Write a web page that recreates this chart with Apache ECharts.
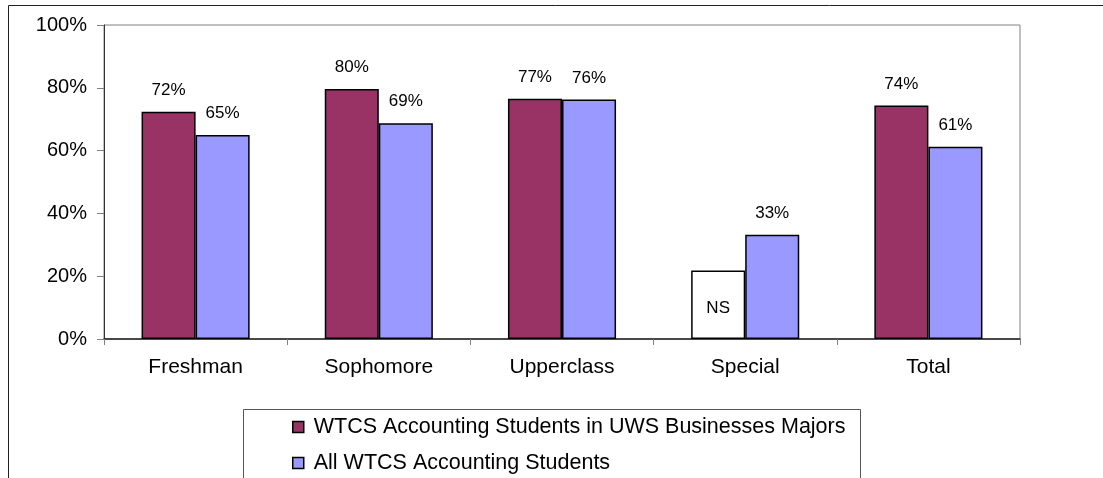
<!DOCTYPE html>
<html>
<head>
<meta charset="utf-8">
<script src="https://cdn.jsdelivr.net/npm/echarts@6/dist/echarts.min.js"></script>
<style>html,body{margin:0;padding:0;background:#fff;}#c{width:1103px;height:478px;}</style>
</head>
<body>
<div id="c"></div>
<script>
var categories = ['Freshman', 'Sophomore', 'Upperclass', 'Special', 'Total'];
var seriesNames = ['WTCS Accounting Students in UWS Businesses Majors', 'All WTCS Accounting Students'];
var uwsMajors = [72.4, 79.6, 76.5, 21.8, 74.4];
var allStudents = [65.0, 68.7, 76.3, 33.2, 61.2];
var notSignificant = [false, false, false, true, false];
var yTicks = [0, 20, 40, 60, 80, 100];

var FONT = '"Liberation Sans", Arial, sans-serif';
var chart = echarts.init(document.getElementById('c'), null, {renderer: 'canvas'});

function pctLabel(p) { return Math.round(p.value) + '%'; }

var s1 = uwsMajors.map(function (v, i) {
  if (notSignificant[i]) {
    return {
      value: v,
      itemStyle: {color: '#ffffff'},
      label: {show: true, position: 'inside', offset: [0, 4], formatter: 'NS', fontSize: 17, color: '#000', fontFamily: FONT}
    };
  }
  return v;
});

chart.setOption({
  animation: false,
  backgroundColor: '#ffffff',
  textStyle: {fontFamily: FONT},
  grid: {left: 104, top: 25, right: 83, bottom: 139, show: true, borderColor: '#808080', borderWidth: 1},
  xAxis: {
    type: 'category',
    data: categories,
    axisLine: {lineStyle: {color: '#222', width: 1.5}},
    axisTick: {show: true, length: 6, lineStyle: {color: '#808080'}},
    axisLabel: {fontSize: 21, color: '#000', margin: 18, fontFamily: FONT},
    splitLine: {show: false}
  },
  yAxis: {
    type: 'value',
    min: yTicks[0],
    max: yTicks[yTicks.length - 1],
    interval: yTicks[1] - yTicks[0],
    axisLine: {show: true, lineStyle: {color: '#333', width: 1}},
    axisTick: {show: true, length: 7, lineStyle: {color: '#808080'}},
    axisLabel: {fontSize: 20, color: '#000', margin: 17, formatter: '{value}%', fontFamily: FONT},
    splitLine: {show: false}
  },
  legend: {
    orient: 'vertical',
    left: 292,
    top: 416,
    bottom: 0,
    padding: 0,
    itemWidth: 11,
    itemHeight: 11,
    itemGap: 14,
    icon: 'rect',
    itemStyle: {borderColor: '#000', borderWidth: 1.5},
    textStyle: {fontSize: 21.5, color: '#000', lineHeight: 22, fontFamily: FONT, padding: [0, 0, 0, 5]},
    data: seriesNames
  },
  series: [
    {
      name: seriesNames[0],
      type: 'bar',
      data: s1,
      barGap: '0%',
      barCategoryGap: '41%',
      itemStyle: {color: '#993366', borderColor: '#000', borderWidth: 1.5},
      label: {show: true, position: 'top', distance: 13, formatter: pctLabel, fontSize: 17, color: '#000', fontFamily: FONT}
    },
    {
      name: seriesNames[1],
      type: 'bar',
      data: allStudents,
      itemStyle: {color: '#9999ff', borderColor: '#000', borderWidth: 1.5},
      label: {show: true, position: 'top', distance: 13, formatter: pctLabel, fontSize: 17, color: '#000', fontFamily: FONT}
    }
  ],
  graphic: [
    {type: 'line', shape: {x1: 8.5, y1: 5.5, x2: 1103, y2: 5.5}, style: {stroke: '#222', lineWidth: 1}, z: 10},
    {type: 'line', shape: {x1: 8.5, y1: 5.5, x2: 8.5, y2: 478}, style: {stroke: '#222', lineWidth: 1}, z: 10},
    {type: 'rect', shape: {x: 243.5, y: 409.5, width: 617, height: 100}, style: {fill: 'none', stroke: '#555', lineWidth: 1}, z: -1}
  ]
});
</script>
</body>
</html>
